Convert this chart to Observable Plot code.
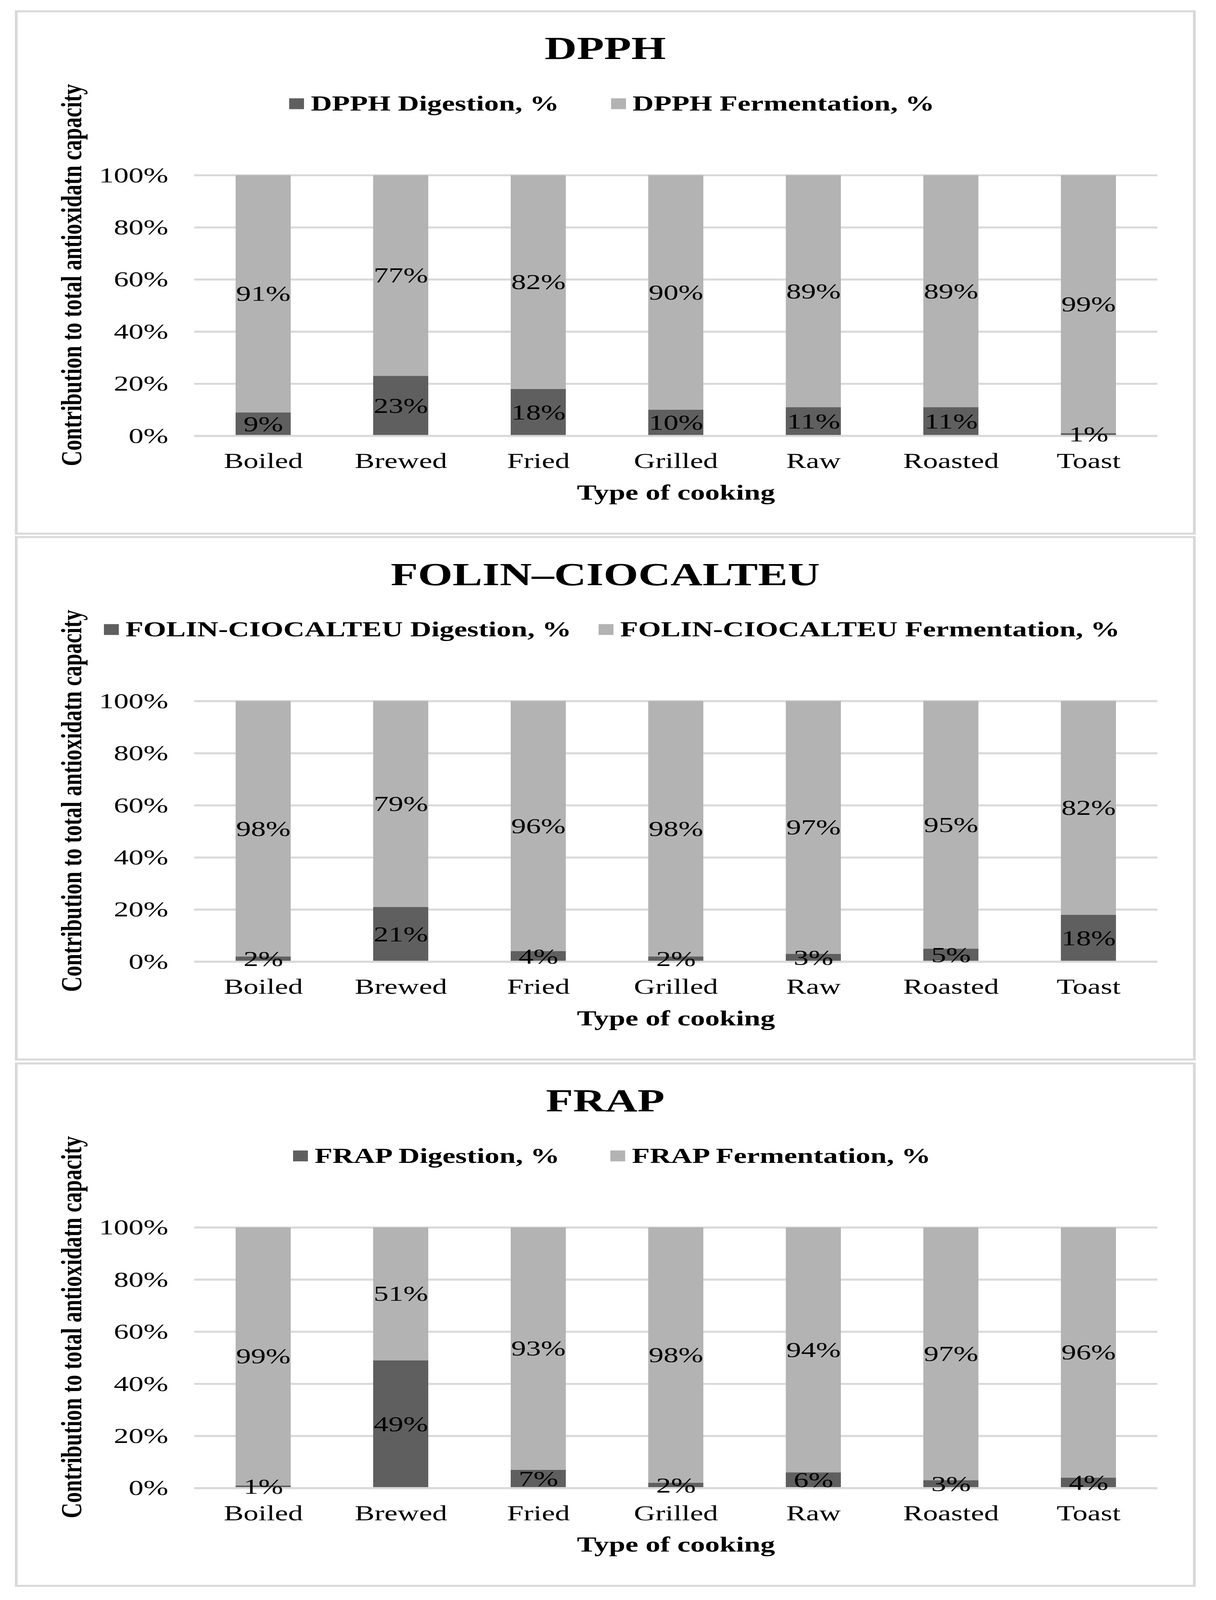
<!DOCTYPE html>
<html><head><meta charset="utf-8">
<script src="https://cdn.jsdelivr.net/npm/d3@7"></script>
<script src="https://cdn.jsdelivr.net/npm/@observablehq/plot@0.6"></script>
<style>
html,body{margin:0;padding:0;background:#fff;overflow:hidden;}
body{width:3112px;font-family:"Liberation Serif","Times New Roman",serif;color:#000;}
#page{position:absolute;left:0;top:0;width:3112px;height:5599px;transform-origin:0 0;background:#fff;}
.panel{position:absolute;left:0;width:3112px;height:1835px;}
.panel svg{position:absolute;left:0;top:0;}
.frame{position:absolute;left:38px;top:0;width:3022px;height:1835px;border:7px solid #d9d9d9;box-sizing:border-box;}
.title{position:absolute;left:38px;width:3022px;top:76px;text-align:center;font-weight:bold;font-size:114px;line-height:114px;white-space:nowrap;}
.legend{position:absolute;left:55px;width:3022px;top:288px;text-align:center;font-weight:bold;font-size:75px;line-height:75px;white-space:nowrap;}
.item{display:inline-block;}
.sw{display:inline-block;width:38px;height:38px;vertical-align:5px;margin-right:17px;}
</style></head><body>
<div id="page"></div>
<script>
const categories = ["Boiled", "Brewed", "Fried", "Grilled", "Raw", "Roasted", "Toast"];
const yTicks = [0, 20, 40, 60, 80, 100];

const dpphDigestion = [9, 23, 18, 10, 11, 11, 1];
const dpphFermentation = [91, 77, 82, 90, 89, 89, 99];
const folinDigestion = [2, 21, 4, 2, 3, 5, 18];
const folinFermentation = [98, 79, 96, 98, 97, 95, 82];
const frapDigestion = [1, 49, 7, 2, 6, 3, 4];
const frapFermentation = [99, 51, 93, 98, 94, 97, 96];

const panelTitles = ["DPPH", "FOLIN–CIOCALTEU", "FRAP"];
const digestionNames = ["DPPH Digestion, %", "FOLIN-CIOCALTEU Digestion, %", "FRAP Digestion, %"];
const fermentationNames = ["DPPH Fermentation, %", "FOLIN-CIOCALTEU Fermentation, %", "FRAP Fermentation, %"];
const xTitle = "Type of cooking";
const yTitle = "Contribution to total antioxidatn capacity";

const digestionSeries = [dpphDigestion, folinDigestion, frapDigestion];
const fermentationSeries = [dpphFermentation, folinFermentation, frapFermentation];

// layout (not data)
const PAGE_W = 3112, PAGE_H = 5599;
const panelTops = [36, 1876, 3718];
const legendGaps = [133, 70, 130];
const colors = ["#5f5f5f", "#b3b3b3"];
const fontFamily = '"Liberation Serif", "Times New Roman", serif';
const page = document.getElementById("page");

panelTitles.forEach((title, i) => {
  const panel = document.createElement("div");
  panel.className = "panel";
  panel.style.top = panelTops[i] + "px";
  page.appendChild(panel);

  const rows = [];
  categories.forEach((c, j) => rows.push({category: c, series: digestionNames[i], value: digestionSeries[i][j]}));
  categories.forEach((c, j) => rows.push({category: c, series: fermentationNames[i], value: fermentationSeries[i][j]}));

  const chart = Plot.plot({
    width: 3112,
    height: 1835,
    marginLeft: 497,
    marginRight: 150,
    marginTop: 577,
    marginBottom: 346,
    style: {fontFamily, fontSize: "76px", background: "transparent", color: "#000", overflow: "visible"},
    x: {domain: categories, paddingInner: 0.6, paddingOuter: 0.3, label: null, tickSize: 0, tickPadding: 58},
    y: {domain: [0, 100], ticks: yTicks, tickFormat: d => d + "%", label: null, tickSize: 0, tickPadding: 67},
    color: {domain: [digestionNames[i], fermentationNames[i]], range: colors},
    marks: [
      Plot.ruleY(yTicks, {stroke: "#d9d9d9", strokeWidth: 7}),
      Plot.barY(rows, Plot.stackY({x: "category", y: "value", z: "series", fill: "series"})),
      Plot.ruleY([0], {stroke: "#d9d9d9", strokeWidth: 7}),
      Plot.text(rows, Plot.stackY({x: "category", y: "value", z: "series", text: d => d.value + "%", fill: "#000", fontSize: 76})),
      Plot.text([xTitle], {text: d => d, frameAnchor: "bottom", textAnchor: "middle", lineAnchor: "top", dy: 169, fontWeight: "bold", fontSize: 75, fill: "#000"}),
      Plot.text([yTitle], {text: d => d, frameAnchor: "left", textAnchor: "middle", lineAnchor: "middle", rotate: -90, dx: -314, dy: -107, fontWeight: "bold", fontSize: 75, fill: "#000"})
    ]
  });
  panel.appendChild(chart);

  const frame = document.createElement("div");
  frame.className = "frame";
  panel.appendChild(frame);

  const t = document.createElement("div");
  t.className = "title";
  t.textContent = title;
  panel.appendChild(t);

  const lg = document.createElement("div");
  lg.className = "legend";
  [digestionNames[i], fermentationNames[i]].forEach((name, k) => {
    const item = document.createElement("span");
    item.className = "item";
    if (k > 0) item.style.marginLeft = legendGaps[i] + "px";
    const sw = document.createElement("span");
    sw.className = "sw";
    sw.style.background = colors[k];
    item.appendChild(sw);
    item.appendChild(document.createTextNode(name));
    lg.appendChild(item);
  });
  panel.appendChild(lg);
});

// The browser viewport may be shorter than the 3112x5599 figure; fit the whole figure into it.
function fit() {
  const vw = window.innerWidth || PAGE_W;
  const vh = window.innerHeight || PAGE_H;
  const sx = Math.min(1, vw / PAGE_W);
  const sy = Math.min(1, vh / PAGE_H);
  page.style.transform = `scale(${sx}, ${sy})`;
  document.body.style.height = Math.min(vh, PAGE_H) + "px";
}
fit();
window.addEventListener("resize", fit);
</script>
</body></html>
